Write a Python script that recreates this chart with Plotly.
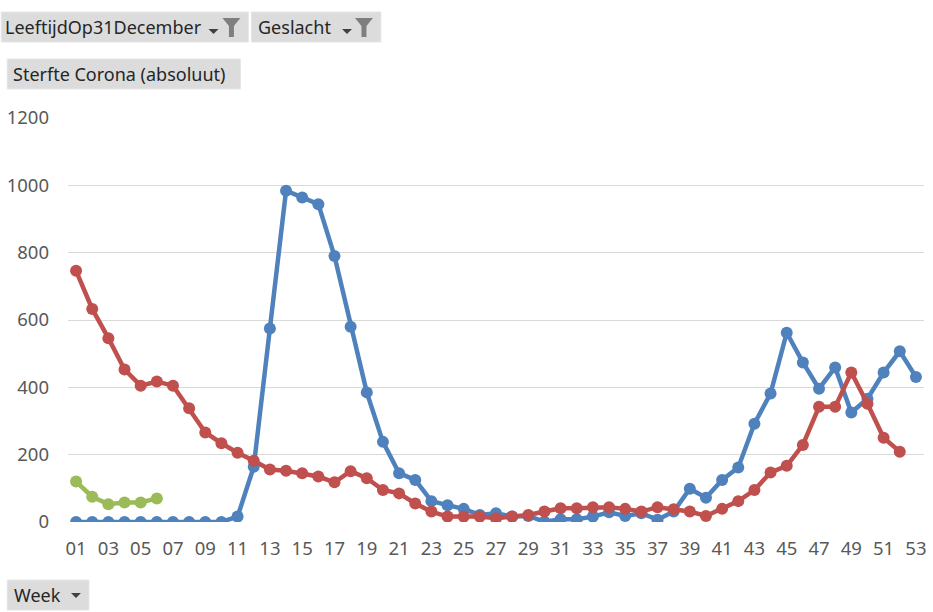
import plotly.graph_objects as go

# Weekly corona deaths (absolute), per series
weeks = list(range(1, 54))
week_labels = [f"{w:02d}" for w in weeks]

blue_vals = [0, 0, 0, 0, 0, 0, 0, 0, 0, 0, 16, 164, 575, 984, 964, 944, 790, 580, 385, 238,
             145, 125, 62, 50, 39, 21, 26, 16, 18, 1, 8, 8, 16, 29, 18, 26, 7, 31, 99, 72,
             125, 162, 292, 382, 562, 474, 396, 459, 325, 366, 444, 507, 431]
red_vals = [746, 633, 546, 453, 405, 417, 405, 338, 266, 234, 206, 182, 156, 152, 145, 135,
            118, 151, 130, 95, 85, 55, 31, 16, 16, 16, 11, 16, 21, 31, 41, 41, 44, 44, 39, 31,
            44, 38, 31, 18, 39, 62, 95, 147, 167, 229, 342, 342, 444, 351, 250, 209]
green_vals = [120, 75, 53, 58, 58, 70]

y_ticks = [0, 200, 400, 600, 800, 1000, 1200]

BLUE = "#4F81BD"
RED = "#C0504D"
GREEN = "#9BBB59"
FONT = "Noto Sans"
FS = 18.5

W, H = 933, 612
L, R, T, B = 67, 926, 118, 522  # plot area in pixels


def px(x):
    return (x - L) / (R - L)


def py(y):
    return (B - y) / (B - T)


fig = go.Figure()
for vals, col in [(blue_vals, BLUE), (red_vals, RED), (green_vals, GREEN)]:
    fig.add_trace(go.Scatter(
        x=weeks[:len(vals)], y=vals, mode="lines+markers",
        line=dict(color=col, width=4.5),
        marker=dict(color=col, size=12),
        hoverinfo="x+y", showlegend=False,
    ))

shapes = []
annotations = []


def button(x0, y0, x1, y1, text, tx, dropdown=None, funnel=None):
    shapes.append(dict(type="rect", xref="paper", yref="paper",
                       x0=px(x0), x1=px(x1), y0=py(y1), y1=py(y0),
                       fillcolor="#DCDCDC", line=dict(color="#E6E6E6", width=1),
                       layer="above"))
    annotations.append(dict(xref="paper", yref="paper", x=px(tx), y=py((y0 + y1) / 2),
                            xanchor="left", yanchor="middle", showarrow=False,
                            text=text, font=dict(family=FONT, size=FS - 0.5, color="#262626")))
    if dropdown is not None:
        dx, dy = dropdown
        path = (f"M {px(dx - 5)} {py(dy - 2)} L {px(dx + 5)} {py(dy - 2)} "
                f"L {px(dx)} {py(dy + 3)} Z")
        shapes.append(dict(type="path", xref="paper", yref="paper", path=path,
                           fillcolor="#404040", line=dict(width=0), layer="above"))
    if funnel is not None:
        fx, fy = funnel
        path = (f"M {px(fx - 9)} {py(fy - 9)} L {px(fx + 9)} {py(fy - 9)} "
                f"L {px(fx + 2.5)} {py(fy - 1)} L {px(fx + 2.5)} {py(fy + 10)} "
                f"L {px(fx - 2.5)} {py(fy + 10)} L {px(fx - 2.5)} {py(fy - 1)} Z")
        shapes.append(dict(type="path", xref="paper", yref="paper", path=path,
                           fillcolor="#7F7F7F", line=dict(width=0), layer="above"))


button(0, 12, 248, 42, "LeeftijdOp31December", 2, dropdown=(213, 31), funnel=(231, 27))
button(251, 12, 381, 42, "Geslacht", 256, dropdown=(347, 31), funnel=(364, 27))
button(6, 59, 240, 89, "Sterfte Corona (absoluut)", 10)
button(6, 580, 88, 610, "Week", 11, dropdown=(75, 595))

fig.update_layout(
    width=W, height=H,
    margin=dict(l=L, r=W - R, t=T, b=H - B),
    paper_bgcolor="white", plot_bgcolor="white",
    font=dict(family=FONT, color="#595959", size=FS),
    xaxis=dict(range=[0.5, 53.5], tickvals=weeks[::2], ticktext=week_labels[::2],
               showgrid=False, zeroline=False, showline=False, ticks="",
               ticklabelstandoff=13,
               tickfont=dict(size=FS, color="#595959"), fixedrange=True),
    yaxis=dict(range=[0, 1200], tickvals=y_ticks, ticktext=[str(v) for v in y_ticks],
               showgrid=True, gridcolor="#D9D9D9", gridwidth=1, zeroline=False,
               showline=False, ticks="", ticklabelstandoff=18,
               tickfont=dict(size=FS, color="#595959"), fixedrange=True),
    shapes=shapes, annotations=annotations,
    hovermode="closest",
)

fig.write_html("out.html")
